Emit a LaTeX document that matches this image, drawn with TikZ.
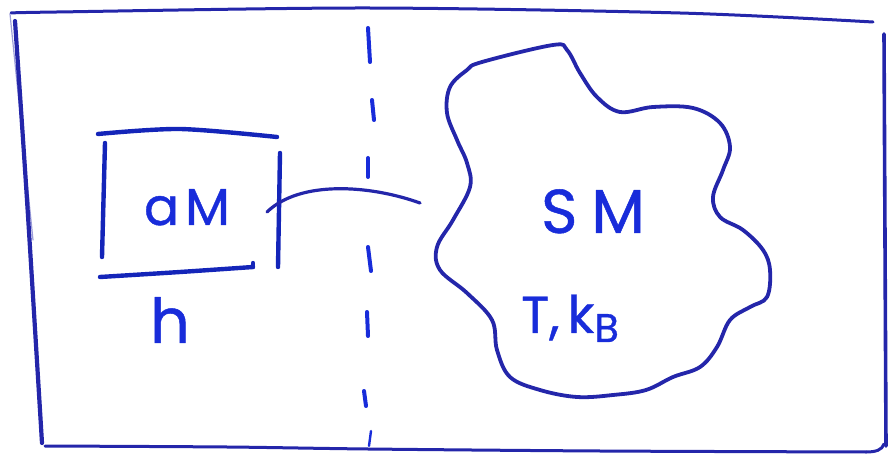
\documentclass[tikz,border=0pt]{standalone}
\usepackage{fontspec}
\setmainfont{Poppins}[FakeBold=0.8]
\definecolor{ink}{RGB}{36,38,170}
\definecolor{txt}{RGB}{24,44,218}
\begin{document}
\begin{tikzpicture}[x=1pt,y=-1pt, line cap=round, line join=round,
  border/.style={draw=ink, line width=3pt},
  pen/.style={draw=txt!85!black, line width=4.4pt},
  blobline/.style={draw=ink, line width=3.8pt},
  dashmark/.style={draw=txt, line width=4pt},
  lbl/.style={text=txt, inner sep=0pt, anchor=base}]
\useasboundingbox (0,0) rectangle (889,454);
% outer frame
\draw[border] plot[smooth] coordinates {(11,13) (57,12) (368,8) (680,13) (873,22)};
\draw[draw=ink!45, line width=1.2pt] (10,14) -- (33,240);
\draw[border, line width=4.2pt] plot[smooth] coordinates {(15,21) (27,200) (42,443)};
\draw[border] plot[smooth] coordinates {(45,446) (227,447) (368,449) (600,451) (866,452)};
\draw[border] (866,452) .. controls (876,452) and (882,450) .. (884,444);
\draw[border, line width=3.6pt] (884,34) -- (886,446);
% dashed separator
\draw[dashmark] (368,28) -- (370,62);
\draw[dashmark] (372,100) -- (374,120);
\draw[dashmark] (368,158) -- (368,177);
\draw[dashmark] (368,247) -- (371,271);
\draw[dashmark] (367,312) -- (368,336);
\draw[dashmark] (364,391) -- (366,406);
\draw[dashmark, line width=2.4pt] (371,431) -- (369,446);
% aM box
\draw[pen] plot[smooth] coordinates {(98,134) (180,129) (277,137)};
\draw[pen] (105,143) -- (102,257);
\draw[pen] plot[smooth] coordinates {(100,277) (180,272) (253,267)};
\draw[pen] (253,267) -- (253,263);
\draw[pen] (280,153) -- (278,267);
\node[lbl, font=\fontsize{52}{52}\selectfont] (am) at (187,225) {a\hspace{6pt}M};
\node[lbl, font=\fontsize{62}{62}\selectfont] (h) at (170,343) {h};
% connector
\coordinate (linkA) at (267,212);
\coordinate (linkB) at (420,203);
\draw[draw=ink, line width=3.2pt] (linkA) .. controls (300,180) and (370,185) .. (linkB);
% SM blob
\draw[blobline] plot[smooth cycle, tension=0.6] coordinates {
 (482,62) (553,45) (567,50) (580,73) (597,97) (620,112) (653,107) (693,108)
 (720,123) (730,147) (723,170) (713,197) (720,217) (743,230) (763,250)
 (770,270) (767,297) (750,307) (730,320) (717,347) (700,367) (673,377)
 (646,390) (613,395) (577,397) (540,390) (510,377) (497,350) (492,320)
 (467,293) (440,270) (437,247) (453,220) (470,187) (467,163) (457,140)
 (447,113) (450,87) (467,70)};
\node[lbl, font=\fontsize{62}{62}\selectfont] (sm) at (593,233) {S\hspace{14pt}M};
\node[lbl, font=\fontsize{52}{52}\selectfont, anchor=base west] (tk) at (521,333)
  {T,\hspace{8pt}k\raisebox{-9pt}{\fontsize{40}{40}\selectfont B}};
\end{tikzpicture}
\end{document}
